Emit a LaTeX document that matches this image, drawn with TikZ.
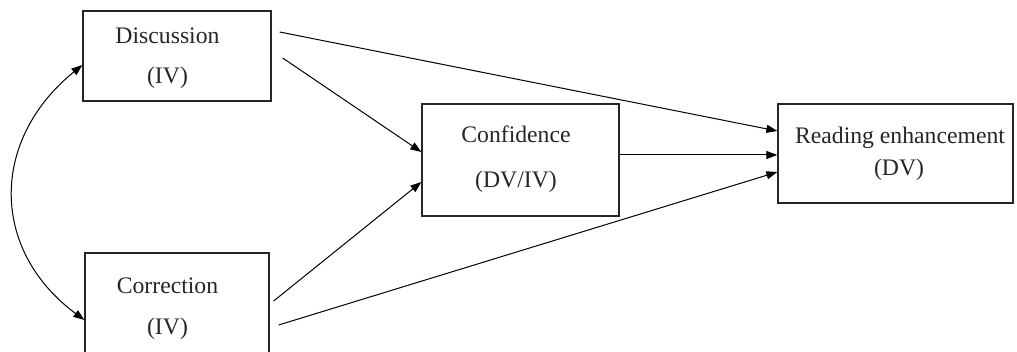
\documentclass[tikz,border=0pt]{standalone}
\usepackage{fontspec}
\setmainfont{Liberation Serif}
\usetikzlibrary{arrows.meta}
\begin{document}
\begin{tikzpicture}[x=1pt,y=-1pt,
  box/.style={draw=black!85,line width=1.3pt,minimum width=#1,inner sep=0pt},
  lbl/.style={anchor=base,inner sep=0pt,text=black!85,font=\fontsize{23.7}{28}\selectfont},
  arr/.style={line width=1pt,-{Triangle[length=11pt,width=8pt]}},
  dblarr/.style={line width=1pt,{Triangle[length=11pt,width=8pt]}-{Triangle[length=11pt,width=8pt]}}]
\useasboundingbox (0,0) rectangle (1017,352);
\clip (0,0) rectangle (1017,352);
\node[box=188pt,minimum height=90pt] (disc) at (177,56) {};
\node[box=184pt,minimum height=109pt] (corr) at (177,307.5) {};
\node[box=197pt,minimum height=112pt] (conf) at (520.5,160) {};
\node[box=235pt,minimum height=99pt] (read) at (895.5,153.5) {};
\node[lbl] (discA) at (167.5,44) {Discussion};
\node[lbl] (discB) at (167.5,84) {(IV)};
\node[lbl] (corrA) at (167.5,294) {Correction};
\node[lbl] (corrB) at (167.5,335) {(IV)};
\node[lbl] (confA) at (516,143) {Confidence};
\node[lbl] (confB) at (516,188) {(DV/IV)};
\node[lbl] (readA) at (900,144) {Reading enhancement};
\node[lbl] (readB) at (899,176) {(DV)};
\draw[arr] ([xshift=8pt,yshift=24pt]disc.east) -- ([yshift=22.5pt]read.west);
\draw[arr] ([xshift=11pt,yshift=-2pt]disc.east) -- ([yshift=8pt]conf.west);
\draw[arr] ([xshift=4pt,yshift=6.5pt]corr.east) -- ([yshift=-22pt]conf.west);
\draw[arr] ([xshift=9pt,yshift=-17.5pt]corr.east) -- ([yshift=-18.5pt]read.west);
\draw[arr] ([yshift=5pt]conf.east) -- ([yshift=-1.5pt]read.west);
\draw[dblarr] ([yshift=-12.5pt]corr.west) .. controls (-10,250) and (-10,140) .. ([yshift=-9pt]disc.west);
\end{tikzpicture}
\end{document}
